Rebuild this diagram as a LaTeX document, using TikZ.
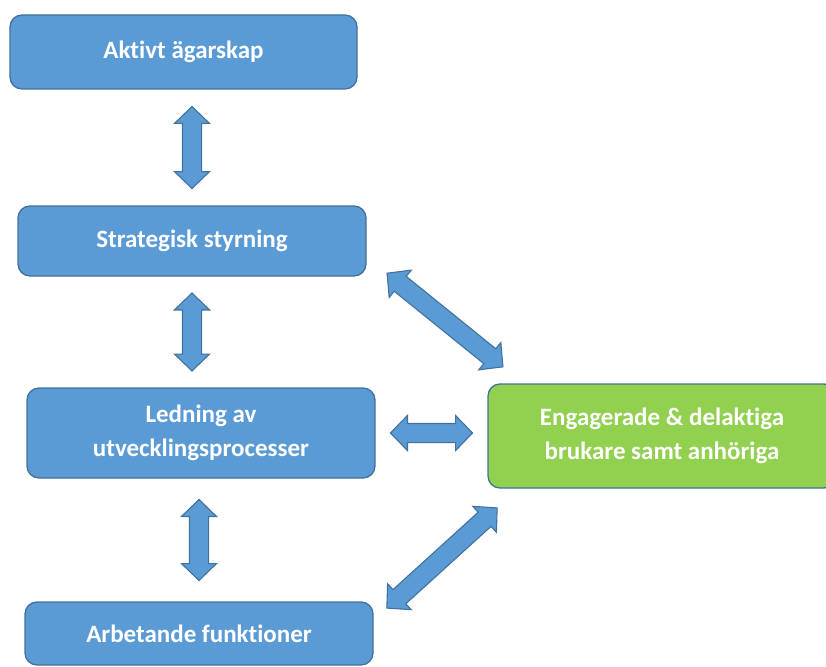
\documentclass[tikz,border=0pt]{standalone}
\usepackage{fontspec}
\setmainfont{Carlito}[Ligatures=NoCommon]
\usetikzlibrary{shapes.arrows}

\definecolor{boxblue}{HTML}{5B9BD5}
\definecolor{edgeblue}{HTML}{41719C}
\definecolor{boxgreen}{HTML}{92D050}

\begin{document}
\begin{tikzpicture}[x=1pt,y=-1pt,
    box/.style={draw=edgeblue, line width=1.3pt, fill=boxblue, rounded corners=12pt,
      minimum width=348pt, inner sep=0pt, align=center, text=white,
      font=\bfseries\fontsize{25}{34}\selectfont},
    greenbox/.style={box, fill=boxgreen},
    dblarrow/.style={double arrow, draw=edgeblue, line width=1.1pt, fill=boxblue,
      inner xsep=0pt, inner ysep=9pt, double arrow head extend=8pt,
      double arrow tip angle=92, minimum height=#1},
    dblarrow/.default=80pt]
  \useasboundingbox (0,0) rectangle (826,666);
  \node[box, minimum width=347pt, minimum height=74pt] (own) at (183.5,52) {Aktivt ägarskap};
  \node[box, minimum height=70pt] (strat) at (192,241) {Strategisk styrning};
  \node[box, minimum height=90pt] (lead) at (201,433) {Ledning av\\utvecklingsprocesser};
  \node[box, minimum height=63pt] (work) at (199,633.5) {Arbetande funktioner};
  \node[greenbox, minimum height=104pt] (users) at (662,436) {Engagerade \& delaktiga\\brukare samt anhöriga};
  % block arrows
  \path (strat.north |- own.south) -- (strat.north)
    node[midway, sloped, dblarrow=82pt] (a1) {};
  \path (strat.south) -- (strat.south |- lead.north)
    node[midway, sloped, dblarrow=78pt] (a2) {};
  \path (work.north |- lead.south) -- (work.north)
    node[midway, sloped, dblarrow=81pt] (a3) {};
  \path (lead.east) -- (lead.east -| users.west)
    node[midway, sloped, dblarrow=82pt] (a4) {};
  \path ([shift={(21,-3)}]strat.south east) -- ([shift={(15,-17)}]users.north west)
    node[midway, sloped, dblarrow=149pt] (a5) {};
  \path ([shift={(9,20)}]users.south west) -- ([shift={(14,6)}]work.north east)
    node[midway, sloped, dblarrow=149pt] (a6) {};
\end{tikzpicture}
\end{document}
